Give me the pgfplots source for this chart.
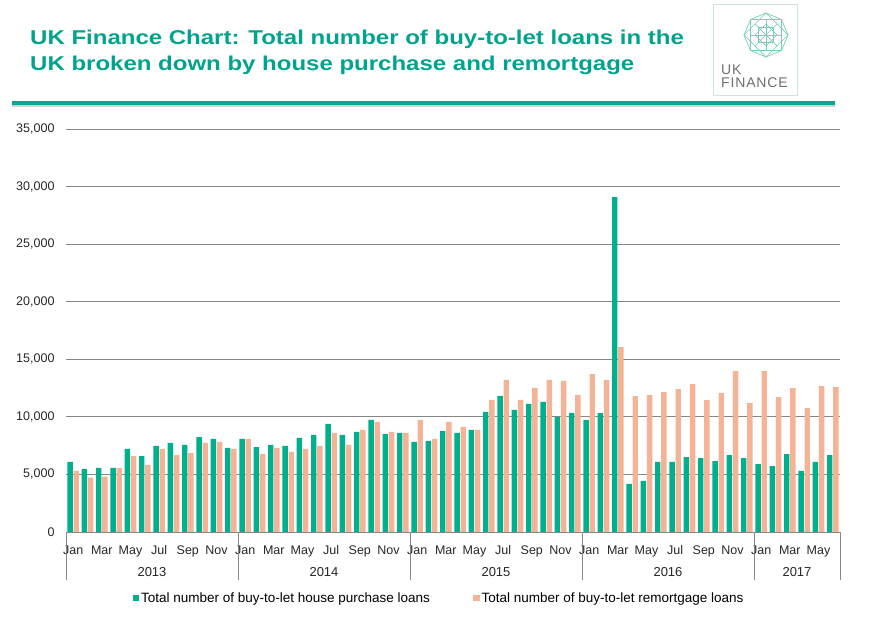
\documentclass[border=0pt]{standalone}
\usepackage{pgfplots}
\pgfplotsset{compat=1.18}
\usepackage{pgfplotstable}
\usepackage{fontspec}
\setmainfont{Liberation Sans}
\newfontfamily\titlefont[FakeStretch=1.2]{Liberation Sans}

\definecolor{btlgreen}{RGB}{0,176,140}
\definecolor{btlpeach}{RGB}{244,179,148}
\definecolor{titleteal}{RGB}{0,163,141}
\definecolor{ruleteal}{RGB}{0,168,150}
\definecolor{gridgray}{RGB}{134,134,134}
\definecolor{logoline}{RGB}{120,205,190}
\definecolor{logobox}{RGB}{205,228,224}
\definecolor{logotext}{RGB}{110,110,110}

% Monthly buy-to-let loans, Jan 2013 to Jun 2017
\pgfplotstableread{
idx purchase remortgage
0  6080  5300
1  5470  4720
2  5560  4810
3  5560  5560
4  7210  6600
5  6600  5820
6  7470  7210
7  7730  6690
8  7560  6860
9  8250  7730
10 8080  7820
11 7300  7210
12 8080  8080
13 7380  6780
14 7560  7300
15 7470  6950
16 8170  7210
17 8430  7470
18 9380  8600
19 8430  7560
20 8690  8860
21 9730  9560
22 8510  8690
23 8600  8600
24 7820  9730
25 7910  8080
26 8770  9560
27 8600  9120
28 8860  8860
29 10430 11470
30 11820 13210
31 10600 11470
32 11120 12510
33 11290 13210
34 10000 13120
35 10340 11900
36 9720  13720
37 10330 13190
38 29080 16060
39 4170  11810
40 4430  11890
41 6080  12150
42 6080  12410
43 6510  12850
44 6420  11460
45 6160  12070
46 6680  13980
47 6420  11200
48 5900  13980
49 5730  11720
50 6770  12500
51 5300  10760
52 6080  12670
53 6680  12590
}\btldata

\begin{document}
\begin{tikzpicture}[x=1pt,y=1pt]
\useasboundingbox (0,0) rectangle (871,618);

% title
\node[anchor=base west, inner sep=0, text=titleteal,
      font=\titlefont\fontsize{20}{24}\selectfont\bfseries] at (30,573)
      {UK Finance Chart: Total number of buy-to-let loans in the};
\node[anchor=base west, inner sep=0, text=titleteal,
      font=\titlefont\fontsize{20}{24}\selectfont\bfseries] at (30,547)
      {UK broken down by house purchase and remortgage};

% header rule with soft shadow
\fill[black!18] (12,510.5) rectangle (835,513);
\fill[ruleteal] (12,513) rectangle (835,516.5);

% logo
\draw[logobox, line width=1pt] (713,522) rectangle (797,613);
\begin{scope}[logoline, line width=0.7pt]
  \draw (750.5,567.5) rectangle (781.5,598.5);
  \draw (766,561) -- (788,583) -- (766,605) -- (744,583) -- cycle;
  \draw (766,567.5) -- (766,598.5);
  \draw (750.5,583) -- (781.5,583);
  \draw (755,572) -- (777,594);
  \draw (755,594) -- (777,572);
  \draw (758.25,575.25) rectangle (773.75,590.75);
  \draw (766,572) -- (777,583) -- (766,594) -- (755,583) -- cycle;
  \draw (750.5,567.5) -- (766,561) -- (781.5,567.5) -- (788,583) -- (781.5,598.5)
        -- (766,605) -- (750.5,598.5) -- (744,583) -- cycle;
\end{scope}
\node[anchor=base west, inner sep=0, text=logotext,
      font=\fontsize{14}{14}\selectfont\addfontfeature{LetterSpace=6}] at (721,543) {UK};
\node[anchor=base west, inner sep=0, text=logotext,
      font=\fontsize{14}{14}\selectfont\addfontfeature{LetterSpace=6}] at (721,530) {FINANCE};

\begin{axis}[
  at={(66pt,86pt)}, anchor=south west,
  scale only axis, width=774pt, height=403pt,
  ybar=0.8pt, bar width=5.4pt,
  xmin=-0.5, xmax=53.5, ymin=0, ymax=35000,
  clip=false,
  axis line style={draw=none},
  major tick length=0pt,
  ytick={0,5000,...,35000},
  ymajorgrids, grid style={gridgray, line width=0.9pt},
  scaled y ticks=false,
  /pgf/number format/assume math mode=true,
  yticklabel style={/pgf/number format/.cd, 1000 sep={,}, /tikz/.cd,
    font=\fontsize{12.5}{14}\selectfont, text=black!85, xshift=-8pt},
  xtick={0,2,...,52},
  xticklabels={Jan,Mar,May,Jul,Sep,Nov,Jan,Mar,May,Jul,Sep,Nov,
               Jan,Mar,May,Jul,Sep,Nov,Jan,Mar,May,Jul,Sep,Nov,Jan,Mar,May},
  xticklabel style={font=\fontsize{12.5}{14}\selectfont, text=black!85, yshift=-10pt},
  legend columns=2,
  legend style={at={(0.5,-0.164)}, anchor=center, xshift=-14pt,
    draw=none, fill=none, font=\fontsize{13.5}{15}\selectfont,
    /tikz/every even column/.append style={column sep=41pt},
    inner xsep=0pt},
  legend image code/.code={\fill[#1, draw=none] (0pt,-3.3pt) rectangle (6.5pt,3.3pt);},
]
\addplot[fill=btlgreen, draw=none] table[x=idx, y=purchase] {\btldata};
\addlegendentry{Total number of buy-to-let house purchase loans}
\addplot[fill=btlpeach, draw=none] table[x=idx, y=remortgage] {\btldata};
\addlegendentry{Total number of buy-to-let remortgage loans}

% year separators and year labels beneath the month labels
\draw[gridgray, line width=0.8pt] (axis cs:-0.5,0) -- ++(0pt,-48pt);
\draw[gridgray, line width=0.8pt] (axis cs:11.5,0) -- ++(0pt,-48pt);
\draw[gridgray, line width=0.8pt] (axis cs:23.5,0) -- ++(0pt,-48pt);
\draw[gridgray, line width=0.8pt] (axis cs:35.5,0) -- ++(0pt,-48pt);
\draw[gridgray, line width=0.8pt] (axis cs:47.5,0) -- ++(0pt,-48pt);
\draw[gridgray, line width=0.8pt] (axis cs:53.5,0) -- ++(0pt,-48pt);
\node[font=\fontsize{13}{15}\selectfont, text=black!85] at ([yshift=-40pt]axis cs:5.5,0) {2013};
\node[font=\fontsize{13}{15}\selectfont, text=black!85] at ([yshift=-40pt]axis cs:17.5,0) {2014};
\node[font=\fontsize{13}{15}\selectfont, text=black!85] at ([yshift=-40pt]axis cs:29.5,0) {2015};
\node[font=\fontsize{13}{15}\selectfont, text=black!85] at ([yshift=-40pt]axis cs:41.5,0) {2016};
\node[font=\fontsize{13}{15}\selectfont, text=black!85] at ([yshift=-40pt]axis cs:50.5,0) {2017};
\end{axis}
\end{tikzpicture}
\end{document}
